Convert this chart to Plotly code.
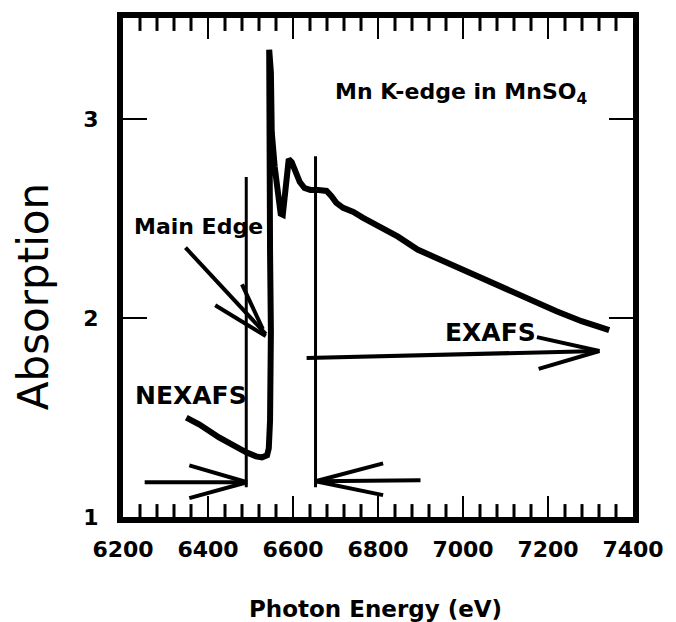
import plotly.graph_objects as go

# Mn K-edge absorption spectrum of MnSO4 (photon energy in eV, absorption)
energy = [6349, 6380, 6426, 6462, 6490, 6513, 6527, 6539, 6543, 6546, 6548,
          6548, 6546, 6546, 6543, 6543, 6544, 6548, 6550, 6557, 6564, 6571,
          6576, 6581, 6585, 6590, 6597, 6606, 6616, 6627, 6641, 6660, 6679,
          6690, 6702, 6718, 6742, 6765, 6800, 6847, 6893, 6940, 7003, 7057,
          7111, 7174, 7220, 7279, 7314, 7344]
absorption = [1.50, 1.465, 1.40, 1.355, 1.325, 1.305, 1.30, 1.31, 1.345, 1.485,
              1.685, 1.935, 2.335, 2.685, 3.085, 3.285, 3.35, 3.235, 2.935,
              2.76, 2.61, 2.525, 2.52, 2.635, 2.76, 2.80, 2.785, 2.735, 2.685,
              2.655, 2.645, 2.645, 2.64, 2.615, 2.58, 2.555, 2.535, 2.505,
              2.465, 2.41, 2.345, 2.30, 2.235, 2.185, 2.135, 2.075, 2.035,
              1.985, 1.96, 1.94]

# region boundaries (eV) and the heights of their marker lines
region_bounds = [6490, 6653]
region_line_top = [2.71, 2.815]
region_line_bottom = 1.15

# arrow segments: ((x0, y0), (x1, y1)) in energy / absorption units
nexafs_arrow = [((6251, 1.175), (6492, 1.175)),
                ((6356, 1.26), (6492, 1.175)),
                ((6356, 1.095), (6492, 1.175))]
edge_side_arrow = [((6653, 1.18), (6900, 1.185)),
                   ((6812, 1.27), (6653, 1.18)),
                   ((6812, 1.11), (6653, 1.18))]
exafs_arrow = [((6632, 1.80), (7321, 1.835)),
               ((7174, 1.905), (7321, 1.835)),
               ((7178, 1.745), (7321, 1.835))]
main_edge_arrow = [((6347, 2.355), (6536, 1.92)),
                   ((6417, 2.065), (6536, 1.91)),
                   ((6480, 2.17), (6529, 1.945))]

# axis ticks: energy range, major and minor spacing; absorption ticks
x_range = [6200, 7400]
x_major_step = 200
x_minor_step = 40
y_range = [1, 3.51]
y_ticks = [1, 2, 3]

FONT = "DejaVu Sans"
PLOT_H = 622 - 15 - 105          # plot-area height in px
MINOR_LEN = 13 / PLOT_H          # minor tick length as a paper fraction


def font(size, weight="bold"):
    return dict(size=size, family=FONT, color="black", weight=weight)


fig = go.Figure()
fig.add_trace(go.Scatter(
    x=energy, y=absorption, mode="lines",
    line=dict(color="black", width=6),
    hoverinfo="skip", showlegend=False,
))
# empty trace so the top (tick-only) axis is drawn
fig.add_trace(go.Scatter(x=[None], y=[None], xaxis="x2", mode="lines",
                         hoverinfo="skip", showlegend=False))

shapes = []
# minor ticks on the bottom and top frame edges
minor_positions = [e for e in range(x_range[0], x_range[1] + 1, x_minor_step)
                   if (e - x_range[0]) % x_major_step != 0]
for e in minor_positions:
    for y0, y1 in ((0, MINOR_LEN), (1, 1 - MINOR_LEN)):
        shapes.append(dict(type="line", xref="x", yref="paper", layer="above",
                           x0=e, x1=e, y0=y0, y1=y1,
                           line=dict(color="black", width=3)))

for xb, top in zip(region_bounds, region_line_top):
    shapes.append(dict(type="line", xref="x", yref="y",
                       x0=xb, x1=xb, y0=region_line_bottom, y1=top,
                       line=dict(color="black", width=3)))

for group in (nexafs_arrow, edge_side_arrow, exafs_arrow, main_edge_arrow):
    for (x0, y0), (x1, y1) in group:
        shapes.append(dict(type="line", xref="x", yref="y",
                           x0=x0, y0=y0, x1=x1, y1=y1,
                           line=dict(color="black", width=4)))

annotations = [
    dict(text="Mn K-edge in MnSO<sub>4</sub>", x=6995, y=3.13, xref="x", yref="y",
         showarrow=False, font=font(22),
         xanchor="center", yanchor="middle"),
    dict(text="Main Edge", x=6377, y=2.46, xref="x", yref="y",
         showarrow=False, font=font(22),
         xanchor="center", yanchor="middle"),
    dict(text="NEXAFS", x=6359, y=1.61, xref="x", yref="y",
         showarrow=False, font=font(25),
         xanchor="center", yanchor="middle"),
    dict(text="EXAFS", x=7064, y=1.93, xref="x", yref="y",
         showarrow=False, font=font(25),
         xanchor="center", yanchor="middle"),
    dict(text="Absorption", x=-0.175, y=0.442, xref="paper", yref="paper",
         showarrow=False, textangle=-90, font=font(42, "normal"),
         xanchor="center", yanchor="middle"),
    dict(text="Photon Energy (eV)", x=0.495, y=-0.185, xref="paper", yref="paper",
         showarrow=False, font=font(23),
         xanchor="center", yanchor="middle"),
]

x_ticking = dict(
    range=x_range, tickmode="linear", tick0=x_range[0], dtick=x_major_step,
    ticks="inside", ticklen=21, tickwidth=2, tickcolor="black",
    showgrid=False, zeroline=False,
)

fig.update_layout(
    width=676, height=622,
    margin=dict(l=123, r=39, t=15, b=105),
    paper_bgcolor="white", plot_bgcolor="white",
    shapes=shapes, annotations=annotations,
    showlegend=False,
    xaxis=dict(
        **x_ticking,
        showline=True, linewidth=6, linecolor="black", mirror=True,
        tickfont=font(22), ticklabelstandoff=8,
    ),
    xaxis2=dict(
        **x_ticking, overlaying="x", side="top",
        showticklabels=False, showline=False,
    ),
    yaxis=dict(
        range=y_range, tickvals=y_ticks,
        ticks="inside", ticklen=24, tickwidth=2, tickcolor="black",
        showline=True, linewidth=6, linecolor="black", mirror="ticks",
        showgrid=False, zeroline=False,
        tickfont=font(22), ticklabelstandoff=14,
    ),
)

fig.write_html("out.html")
